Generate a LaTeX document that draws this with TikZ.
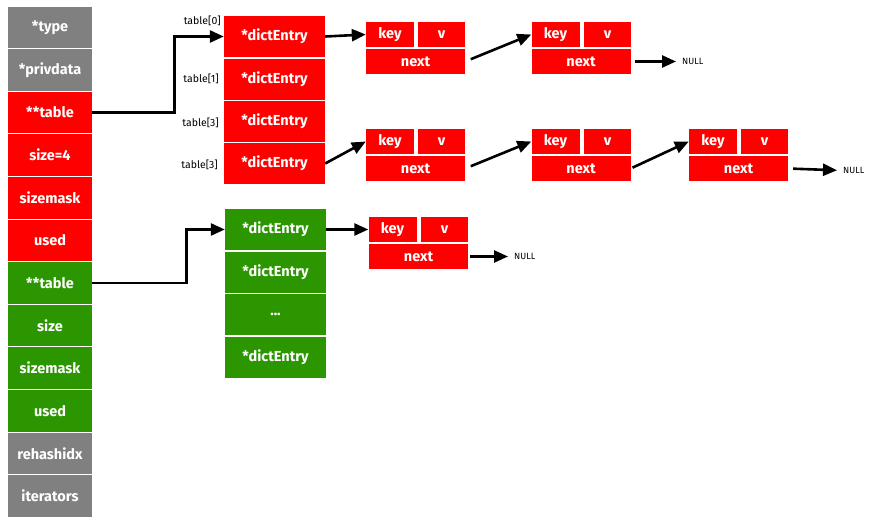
\documentclass[tikz,border=0pt]{standalone}
\usepackage{fontspec}
\setmainfont{Fira Sans}
\usepackage{tikz}
\usetikzlibrary{arrows.meta}
\definecolor{hred}{RGB}{255,0,0}
\definecolor{hgreen}{RGB}{44,150,0}
\definecolor{hgray}{RGB}{128,128,128}
\tikzstyle{cell}=[draw=none,text=white,font=\fontsize{14.5}{16}\selectfont\bfseries,inner sep=0pt,minimum width=84pt,minimum height=41.6pt]
\tikzstyle{entry}=[cell,minimum width=101pt,minimum height=41pt]
\tikzstyle{box}=[cell,minimum height=25pt]
\tikzstyle{lbl}=[inner sep=0pt,font=\fontsize{10.5}{12}\selectfont]
\tikzstyle{nul}=[inner sep=0pt,font=\fontsize{9}{11}\selectfont]
\tikzstyle{link}=[line width=2.6pt,-{Triangle[length=14pt,width=12pt]}]

\begin{document}
\begin{tikzpicture}[x=1pt,y=-1pt]
          \useasboundingbox (0,0) rectangle (870,525);
          % dict
          \node[cell,fill=hgray] at (50, 27.3) (type) {*type};
          \node[cell,fill=hgray] at (50, 69.9) (privdata) {*privdata};
          \node[cell,fill=hred] at (50, 112.5) (ttable) {**table};
          \node[cell,fill=hred] at (50, 155.1) (tsize) {size=4};
          \node[cell,fill=hred] at (50, 197.7) (tmask) {sizemask};
          \node[cell,fill=hred] at (50, 240.3) (tused) {used};
          \node[cell,fill=hgreen] at (50, 282.9) (rtable) {**table};
          \node[cell,fill=hgreen] at (50, 325.5) (rsize) {size};
          \node[cell,fill=hgreen] at (50, 368.1) (rmask) {sizemask};
          \node[cell,fill=hgreen] at (50, 410.7) (rused) {used};
          \node[cell,fill=hgray] at (50, 453.3) (rehash) {rehashidx};
          \node[cell,fill=hgray] at (50, 495.9) (iter) {iterators};

          % table arrays
          \node[entry,fill=hred] at (274.5, 36.5) (d0) {*dictEntry};
          \node[entry,fill=hred] at (274.5, 79) (d1) {*dictEntry};
          \node[entry,fill=hred] at (274.5, 121.5) (d2) {*dictEntry};
          \node[entry,fill=hred] at (274.5, 163.5) (d3) {*dictEntry};
          \node[entry,fill=hgreen] at (275.5, 229.5) (g0) {*dictEntry};
          \node[entry,fill=hgreen] at (275.5, 272.5) (g1) {*dictEntry};
          \node[entry,fill=hgreen] at (275.5, 314.5) (g2) {...};
          \node[entry,fill=hgreen] at (275.5, 357.5) (g3) {*dictEntry};

          \node[lbl,anchor=east] at (221, 21) (l0) {table[0]};
          \node[lbl,anchor=east] at (219, 79) (l1) {table[1]};
          \node[lbl,anchor=east] at (219, 123) (l2) {table[3]};
          \node[lbl,anchor=east] at (218, 165) (l3) {table[3]};

          % entries
          \node[box,fill=hred,minimum width=48pt] at (390, 34.5) (ka) {key};
          \node[box,fill=hred,minimum width=47pt] at (441.5, 34.5) (va) {v};
          \node[box,fill=hred,minimum width=99pt] at (415.5, 61.5) (na) {next};
          \node[box,fill=hred,minimum width=48pt] at (555.5, 34.5) (kb) {key};
          \node[box,fill=hred,minimum width=47pt] at (607.5, 34.5) (vb) {v};
          \node[box,fill=hred,minimum width=99pt] at (581, 61.5) (nb) {next};
          \node[box,fill=hred,minimum width=48pt] at (390, 141.5) (kc) {key};
          \node[box,fill=hred,minimum width=47pt] at (441.5, 141.5) (vc) {v};
          \node[box,fill=hred,minimum width=99pt] at (415.5, 168.5) (nc) {next};
          \node[box,fill=hred,minimum width=48pt] at (555.5, 141.5) (kd) {key};
          \node[box,fill=hred,minimum width=47pt] at (607.5, 141.5) (vd) {v};
          \node[box,fill=hred,minimum width=99pt] at (581, 168.5) (nd) {next};
          \node[box,fill=hred,minimum width=48pt] at (713, 141.5) (ke) {key};
          \node[box,fill=hred,minimum width=47pt] at (764.5, 141.5) (ve) {v};
          \node[box,fill=hred,minimum width=99pt] at (738.5, 168.5) (ne) {next};
          \node[box,fill=hred,minimum width=48pt] at (392.5, 229.5) (kg) {key};
          \node[box,fill=hred,minimum width=47pt] at (444.5, 229.5) (vg) {v};
          \node[box,fill=hred,minimum width=99pt] at (418.5, 256.5) (ng) {next};

          \node[nul,anchor=west] at (682, 61.5) (null1) {NULL};
          \node[nul,anchor=west] at (843, 170.5) (null2) {NULL};
          \node[nul,anchor=west] at (514, 256.5) (null3) {NULL};

          % pointers
          \draw[link] (ttable.east) -- ++(82,0) |- (d0.west);
          \draw[link] (rtable.east) -- ++(94,0) |- (g0.west);
          \draw[link] (d0.east) -- (ka.west);
          \draw[link,shorten <=6pt] (na.east) -- (kb.west);
          \draw[link,shorten <=4pt,shorten >=6pt] (nb.east) -- (null1.west);
          \draw[link] (d3.east) -- (kc.west);
          \draw[link,shorten <=6pt] (nc.east) -- (kd.west);
          \draw[link,shorten <=2pt] (nd.east) -- (ke.west);
          \draw[link,shorten <=5pt,shorten >=6pt] (ne.east) -- (null2.west);
          \draw[link] (g0.east) -- (kg.west);
          \draw[link,shorten <=2pt,shorten >=6pt] (ng.east) -- (null3.west);
        \end{tikzpicture}
\end{document}
